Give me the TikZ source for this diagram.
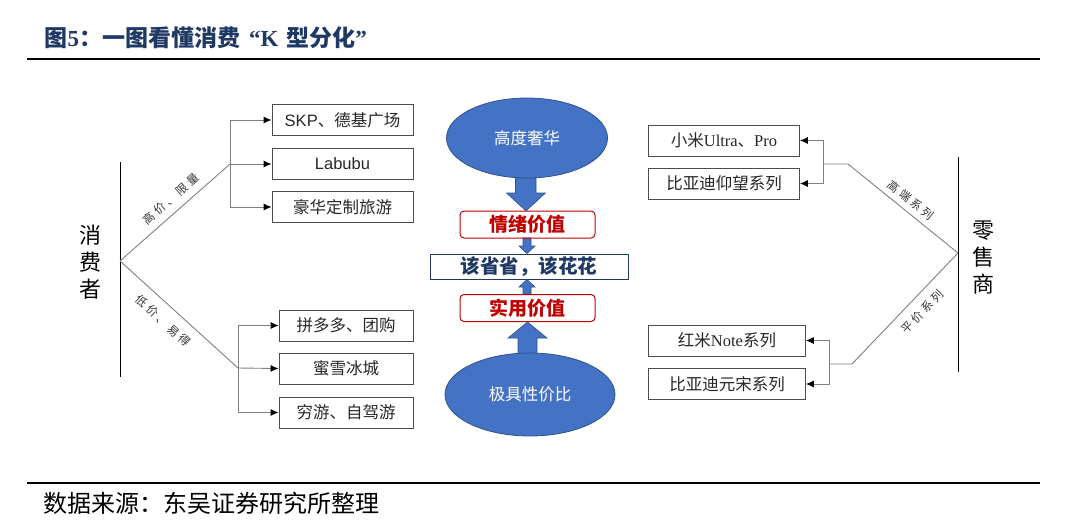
\documentclass[tikz,border=0pt]{standalone}
\usepackage{fontspec}
\setmainfont{Liberation Serif}
\newfontfamily\cjk{Noto Sans CJK SC}
\newfontfamily\lsans{Liberation Sans}
\newfontfamily\lser{Liberation Serif}
\usetikzlibrary{arrows.meta,shapes.geometric}
\definecolor{navy}{HTML}{1F3864}
\definecolor{kred}{HTML}{C00000}
\definecolor{kblue}{HTML}{4472C4}
\definecolor{kblueline}{HTML}{2F528F}
\definecolor{lgray}{HTML}{808080}
\newcommand{\lsp}{\hspace{3pt}}
\begin{document}
\begin{tikzpicture}[x=1pt,y=-1pt,
  box/.style={draw=black!70, line width=0.9pt, minimum height=31pt, inner sep=0pt,
    font=\cjk\fontsize{16.5}{18}\selectfont, text=black!85},
  conn/.style={draw=lgray, line width=0.9pt},
  tipc/.style={conn, -{Latex[length=8pt,width=7pt,color=black]}},
  redbox/.style={draw=kred, rounded corners=4pt, line width=1pt, inner sep=0pt,
    font=\cjk\bfseries\fontsize{19}{21}\selectfont, text=kred,
    minimum width=135pt, minimum height=27pt},
  ell/.style={ellipse, draw=kblueline, fill=kblue, line width=0.8pt, text=white, inner sep=0pt},
  bigarrow/.style={fill=kblue, draw=kblueline, line width=0.6pt},
  side/.style={font=\cjk\fontsize{22}{27}\selectfont, align=center, text=black},
  slab/.style={font=\cjk\fontsize{11.5}{14}\selectfont, text=black!80},
  rule/.style={line width=2.6pt, black}
]
\useasboundingbox (0,0) rectangle (1080,523);

% title and rules
\node[anchor=west, text=navy, font=\cjk\bfseries\fontsize{23}{26}\selectfont] (title) at (41,38)
  {图{\lser\bfseries 5}：一图看懂消费\hspace{9pt}{\lser\bfseries “K}\hspace{8pt}型分化{\lser\bfseries ”}};
\coordinate (r1a) at (27,59); \coordinate (r1b) at (1040,59);
\draw[rule] (r1a) -- (r1b);
\coordinate (r2a) at (27,483); \coordinate (r2b) at (1040,483);
\draw[rule] (r2a) -- (r2b);
\node[anchor=west, text=black, font=\cjk\fontsize{24}{27}\selectfont] (src) at (40,503)
  {数据来源：东吴证券研究所整理};

% ---------- left side ----------
\node[side] (cons) at (90,262) {消\\费\\者};
\coordinate (lv1) at (120,162); \coordinate (lv2) at (120,377);
\draw[line width=1pt, black] (lv1) -- (lv2);
\coordinate (L) at (120,261);
\coordinate (LU) at (230,164);
\coordinate (LD) at (238,368);

\node[box, minimum width=141pt] (skp) at (342.5,120) {{\lsans SKP}、德基广场};
\node[box, minimum width=141pt] (lab) at (342.5,164) {\lsans Labubu};
\node[box, minimum width=141pt] (hh) at (342.5,207) {豪华定制旅游};

\node[box, minimum width=134pt] (pdd) at (346,325.5) {拼多多、团购};
\node[box, minimum width=134pt] (mx) at (346,368.5) {蜜雪冰城};
\node[box, minimum width=134pt] (qy) at (346,412.5) {穷游、自驾游};

\draw[conn] (L) -- (LU);
\draw[conn] (L) -- (LD);
\draw[tipc] (LU) |- (skp.west);
\draw[tipc] (LU) -- (lab.west);
\draw[tipc] (LU) |- (hh.west);
\draw[tipc] (LD) |- (pdd.west);
\draw[tipc] (LD) -- (mx.west);
\draw[tipc] (LD) |- (qy.west);

\node[slab, rotate=41.4] (lu) at (171,199) {高\lsp 价\lsp 、\lsp 限\lsp 量};
\node[slab, rotate=-42] (ld) at (163,321) {低\lsp 价\lsp 、\lsp 易\lsp 得};

% ---------- right side ----------
\node[side] (ret) at (983,258) {零\\售\\商};
\coordinate (rv1) at (958,157); \coordinate (rv2) at (958,372);
\draw[line width=1pt, black] (rv1) -- (rv2);
\coordinate (R) at (958,253);
\coordinate (RU) at (848,164);
\coordinate (RUb) at (823,164);
\coordinate (RD) at (852,364);
\coordinate (RDb) at (829,364);

\node[box, minimum width=151pt] (xm) at (724,140.5) {小米{\lser Ultra}、{\lser Pro}};
\node[box, minimum width=151pt] (yw) at (724,183.5) {比亚迪仰望系列};
\node[box, minimum width=157pt] (hm) at (727,340.5) {红米{\lser Note}系列};
\node[box, minimum width=157pt] (ys) at (727,384) {比亚迪元宋系列};

\draw[conn] (R) -- (RU) -- (RUb);
\draw[conn] (R) -- (RD) -- (RDb);
\draw[tipc] (RUb) |- (xm.east);
\draw[tipc] (RUb) |- (yw.east);
\draw[tipc] (RDb) |- (hm.east);
\draw[tipc] (RDb) |- (ys.east);

\node[slab, rotate=-39] (ru) at (911,200) {高\lsp 端\lsp 系\lsp 列};
\node[slab, rotate=46] (rd) at (922,312) {平\lsp 价\lsp 系\lsp 列};

% ---------- centre ----------
\draw[bigarrow] (515.5,172) -- (536,172) -- (536,193) -- (545.5,193) -- (526,211) -- (506.5,193) -- (515.5,193) -- cycle;
\draw[bigarrow] (518,358) -- (537,358) -- (537,338) -- (547,338) -- (527.5,322) -- (508,338) -- (518,338) -- cycle;
\draw[bigarrow] (523,238) -- (531,238) -- (531,246) -- (535,246) -- (527,253.5) -- (519,246) -- (523,246) -- cycle;
\draw[bigarrow] (523,294) -- (531,294) -- (531,287) -- (535,287) -- (527,279.5) -- (519,287) -- (523,287) -- cycle;

\node[ell, minimum width=161pt, minimum height=80pt, font=\cjk\fontsize{16.5}{18}\selectfont] (lux) at (527,138) {高度奢华};
\node[ell, minimum width=170pt, minimum height=83pt, font=\cjk\fontsize{16.5}{18}\selectfont] (val) at (530,394.5) {极具性价比};

\node[redbox] (emo) at (527.5,224.5) {情绪价值};
\node[redbox] (use) at (527.5,308) {实用价值};
\node[draw=navy, line width=1pt, fill=white, inner sep=0pt, minimum width=198pt, minimum height=25pt,
  text=navy, font=\cjk\bfseries\fontsize{19.5}{21}\selectfont] (mid) at (529,266.5) {该省省，该花花};

\end{tikzpicture}
\end{document}
